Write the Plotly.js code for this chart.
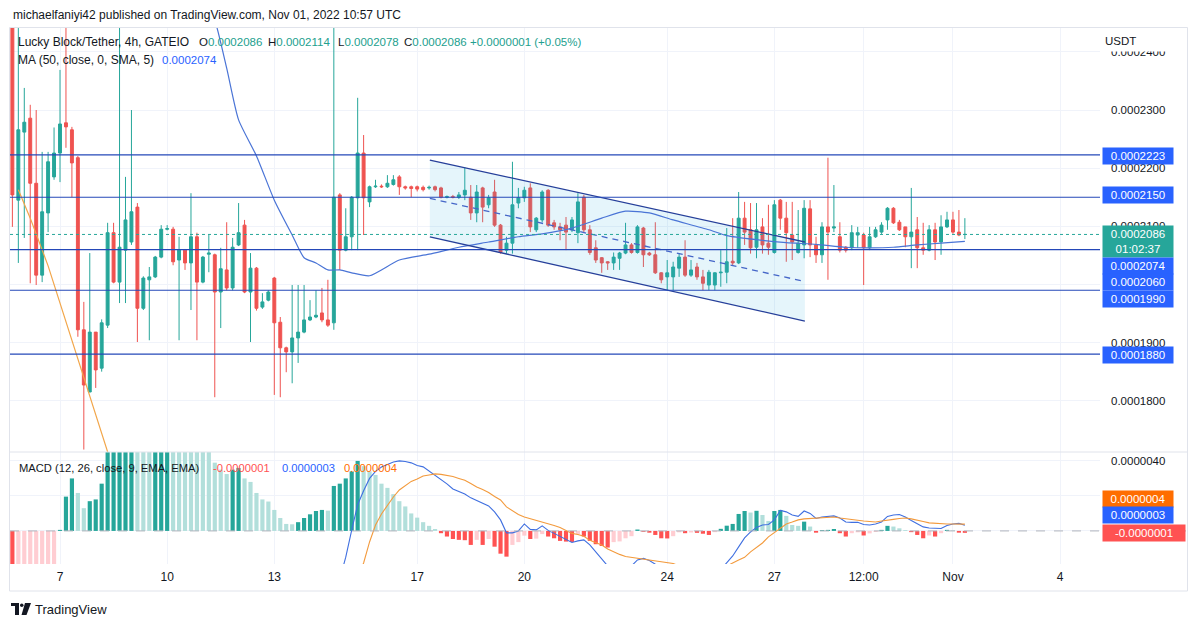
<!DOCTYPE html>
<html><head><meta charset="utf-8">
<script src="https://cdn.plot.ly/plotly-3.0.1.min.js"></script>
<style>html,body{margin:0;padding:0;background:#fff;}#chart{width:1194px;height:627px;}</style>
</head><body><div id="chart"></div>
<script>
// ---- values are in units of 0.0000001 USDT ----
const UNIT = 1e-7;
const firstBar = '2022-10-05 16:00';   // 4h bars
const barHours = 4;

const opens = [
 2450,2145,2262,2286,2174,2016,2123,2185,2226,2278,
 2266,2218,1922,1815,1918,1856,1930,2089,2004,2059,
 2073,2133,1959,2008,2013,2047,2095,2095,2042,2059,
 2037,2082,2004,2052,2051,1987,2025,1994,2068,2102,
 1987,2028,1961,1973,2011,1935,1891,1884,1908,1918,
 1939,1944,1951,1939,1934,2154,2059,2082,2149,2226,
 2142,2168,2169,2168,2172,2185,2168,2168,2168,2167,
 2166,2168,2166,2150,2151,2150,2154,2150,2123,2166,
 2137,2159,2102,2059,2071,2140,2149,2166,2094,2111,
 2162,2106,2099,2102,2094,2089,2150,2094,2063,2046,
 2039,2037,2045,2054,2068,2055,2097,2054,2051,2020,
 2013,2013,2028,2047,2016,2030,2013,1999,1999,2020,
 2021,2040,2037,2114,2094,2064,2099,2071,2055,2145,
 2114,2085,2055,2068,2130,2068,2051,2099,2097,2082,
 2064,2063,2085,2085,2063,2082,2090,2111,2131,2107,
 2099,2082,2094,2063,2059,2094,2073,2099,2111,2090,2086];
const highs = [
 2470,2450,2338,2309,2300,2228,2228,2270,2369,2450,
 2271,2221,1970,2054,1918,1940,2106,2106,2450,2185,
 2300,2140,2014,2030,2049,2102,2102,2099,2082,2061,
 2157,2089,2049,2085,2053,2063,2107,2080,2140,2111,
 2054,2030,1985,1990,2013,1944,1893,1999,1999,1999,
 1973,1990,1994,2008,2460,2157,2131,2152,2321,2257,
 2170,2180,2172,2188,2188,2188,2170,2170,2170,2170,
 2170,2170,2168,2153,2154,2159,2201,2171,2171,2168,
 2154,2180,2104,2082,2211,2166,2168,2174,2116,2162,
 2164,2111,2106,2116,2116,2157,2154,2102,2076,2047,
 2040,2055,2056,2106,2071,2102,2099,2056,2107,2021,
 2042,2039,2054,2076,2042,2037,2025,2025,2021,2059,
 2097,2114,2159,2142,2140,2140,2114,2137,2145,2147,
 2142,2142,2128,2145,2145,2082,2107,2218,2171,2107,
 2066,2102,2099,2089,2099,2099,2107,2133,2133,2111,
 2099,2166,2116,2106,2102,2106,2119,2125,2125,2128,2114];
const lows = [
 2099,2037,2080,2002,1999,2004,2090,2180,2176,2235,
 2150,1910,1716,1815,1822,1850,1925,2002,1968,1968,
 2068,1901,1956,1904,2011,2045,2093,2033,1904,2025,
 1956,1904,2002,2021,1806,1925,1990,1990,2066,1985,
 1901,1955,1958,1971,1810,1806,1849,1830,1865,1916,
 1937,1942,1935,1927,1922,2025,2057,2059,2059,2085,
 2133,2166,2166,2166,2170,2154,2163,2150,2160,2160,
 2163,2160,2148,2148,2148,2147,2145,2111,2107,2107,
 2131,2099,2053,2053,2053,2131,2142,2090,2090,2107,
 2099,2094,2076,2059,2090,2071,2090,2051,2037,2020,
 2025,2025,2025,2052,2053,2053,2030,2049,2018,2002,
 1990,1990,2013,2013,2013,2008,1990,1990,1990,1996,
 2002,2033,2035,2068,2053,2045,2053,2051,2053,2094,
 2039,2042,2053,2045,2047,2037,2037,2008,2090,2055,
 2055,2059,2063,1999,2059,2080,2087,2094,2104,2092,
 2064,2028,2028,2051,2057,2042,2051,2097,2087,2083,2078];
const closes = [
 2154,2266,2279,2174,2016,2125,2211,2226,2276,2271,
 2209,1922,1827,1918,1853,1934,2089,2004,2064,2111,
 2125,1959,2011,2013,2047,2095,2096,2039,2059,2037,
 2082,2004,2047,2054,1987,2027,1994,2064,2089,1987,
 2028,1959,1970,1987,1934,1891,1884,1908,1918,1939,
 1944,1947,1939,1930,2150,2059,2082,2150,2226,2149,
 2168,2169,2168,2174,2180,2168,2166,2165,2164,2163,
 2167,2163,2150,2151,2150,2154,2162,2123,2159,2133,
 2149,2102,2055,2071,2137,2149,2162,2099,2114,2159,
 2102,2099,2094,2090,2111,2142,2094,2055,2042,2037,
 2037,2047,2054,2068,2055,2099,2051,2051,2020,2008,
 2020,2030,2047,2016,2025,2013,2002,2021,2020,2021,
 2039,2037,2114,2090,2063,2094,2068,2064,2137,2114,
 2089,2073,2071,2131,2068,2051,2099,2090,2099,2059,
 2059,2089,2089,2063,2082,2094,2102,2131,2106,2094,
 2082,2090,2063,2059,2094,2073,2099,2111,2090,2085,2086];

// MA (50, close)
const maTimes = ['2022-10-11 00:00','2022-10-11 08:00','2022-10-11 16:00','2022-10-12 00:00','2022-10-12 12:00',
 '2022-10-13 00:00','2022-10-13 12:00','2022-10-13 20:00','2022-10-14 04:00','2022-10-14 12:00','2022-10-14 20:00',
 '2022-10-15 04:00','2022-10-15 16:00','2022-10-16 12:00','2022-10-17 08:00','2022-10-18 04:00','2022-10-19 00:00',
 '2022-10-19 20:00','2022-10-20 12:00','2022-10-21 08:00','2022-10-22 04:00','2022-10-22 20:00','2022-10-23 12:00',
 '2022-10-24 04:00','2022-10-25 04:00','2022-10-25 16:00','2022-10-26 12:00','2022-10-27 08:00','2022-10-28 04:00',
 '2022-10-29 00:00','2022-10-29 16:00','2022-10-30 08:00','2022-10-31 00:00','2022-10-31 16:00','2022-11-01 08:00'];
const maVals = [2500,2455,2372,2283,2221,2145,2085,2046,2037,2025,2025,2020,2015,2042,2052,2064,2073,2082,2087,2097,
 2114,2126,2123,2111,2094,2084,2077,2072,2069,2064,2063,2064,2068,2071,2074];

// orange line on the price pane
const orangeTimes = ['2022-10-05 20:00','2022-10-06 04:00','2022-10-06 16:00','2022-10-07 16:00','2022-10-08 08:00','2022-10-08 12:00'];
const orangeVals = [2163,2114,2032,1838,1712,1680];

// horizontal levels and channel drawing
const levels = [2223,2150,2060,1990,1880];
const lastPrice = 2086, maLast = 2074;
const channelTimes = ['2022-10-17 08:30','2022-10-27 20:30'];
const channelUpper = [2214,2073];
const channelLower = [2082,1937];
const channelMid = [2148,2005];

// MACD (12, 26, close, 9)
const histVals = [
 -26,-25,-24,-23,-22,-21.5,-21,-20.5,0.6,19.6,
 30,21.7,13,17,18,27,48,52,56,60,
 63,61,58,55,57,59,61,59,57,55,
 53,51,49,47,39,35,32.5,35,36,30,
 28,21.7,18,16.8,12,7.4,4,3.8,5,7.4,
 9.5,11.4,12,11.6,25.7,27,30,34,40,37,
 34,32,27,24.6,21,17,14,10,7.6,5,
 2.9,1.1,-1.3,-3.2,-4.6,-5.1,-5.3,-8,-5.1,-8,
 -4.6,-9,-13,-14.7,-8,-6.4,-2.7,-4.6,-4.4,-1.8,
 -3.2,-4.2,-5.7,-6.1,-6.3,-1.8,-3.2,-5.7,-7.6,-8.6,
 -9.5,-6.4,-6.0,-4.2,-3,0.8,-0.5,-1,-2.3,-4.2,
 -4.3,-3,-0.8,-1.3,-0.9,-1.1,-1.6,-2.3,-0.7,1.2,
 3,4,9.7,11.4,10.5,11.5,9.1,5.7,11.4,12,
 8.6,3.4,2.9,5.3,2.5,-1,0.5,0.6,1.1,-1.3,
 -3.2,-1.3,-0.8,-2.6,-1.4,-0.6,0.6,2.9,2.5,1.5,
 0.5,-0.7,-2.3,-4.2,-2.6,-3.2,-1.3,0.6,0.3,-1,-1.1];
const macdStart = '2022-10-14 16:00';
const macdVals = [
 -40,-27,-15,0.5,15,23,30,34,36.5,38,
 39.4,40,39.7,38.9,37.4,36.6,34.3,32,29.4,26.9,
 24,22.6,21.1,18.9,17.4,16,14.3,10.9,6.3,-1.1,
 -1.1,0,4,0.9,0.6,2.9,0.3,-1.4,-3.1,-4.6,
 -6.6,-5.7,-5.1,-8,-12,-16.3,-20.5,-24,-25,-23,
 -20,-16.6,-15.7,-16.9,-19,-23,-26,null,null,null,
 null,null,null,null,-26,-22,-18.3,-14.3,-9.1,-4,
 -0.6,2,3.4,3.7,6.3,11.7,10.9,9.1,8.3,11.4,
 10,7.1,8,8.3,8.6,7.4,5.1,4.9,4.9,3.7,
 3.4,4,5.1,8.3,9.1,9.4,8,6,4.3,2.3,
 1.7,1.4,1.4,3.1,4,4.3,3.2];
const signalStart = '2022-10-15 04:00';
const signalVals = [
 -35,-27,-18.3,-6.3,3.4,9.7,14.9,19.4,23.4,25.7,
 28.3,29.7,31.4,32,32.6,32.3,31.7,31.1,30,28.9,
 27.1,25.1,23.7,22,19.7,17.7,13.7,11.4,9.4,8,
 7.1,6,5.1,4.3,3.1,2,0.3,-1.4,-2,-3.1,
 -5.4,-6.9,-8,-10.3,-12,-13.4,-14.6,-15.1,-15.4,-15.7,
 -16.3,-16.9,-17.4,-17.7,-18.6,-20,-21.5,null,null,null,
 null,null,-22,-20,-18.3,-16.6,-15.1,-12,-9.4,-6.9,
 -3.4,-0.9,1.7,4,5.1,6.3,6.9,7.1,7.4,7.7,
 8,8,7.4,6.9,6.3,6,5.7,5.4,5.1,5.7,
 6,6.6,7.1,7.4,6.9,6.3,5.4,4.6,4.3,4,
 4,4,3.9,3.9];
const macdNow = -1, macdLineNow = 3, signalNow = 4;   // legend values

// price-scale ticks; those hidden behind the coloured tags in the reference carry no text
const priceTicks = [1800,1900,2000,2100,2200,2300,2400];
const priceTicksHidden = [2000];
const macdTicks = [0,20,40];
const macdTicksHidden = [0,20];
const xTickVals = ['2022-10-07','2022-10-10','2022-10-13','2022-10-17','2022-10-20','2022-10-24','2022-10-27','2022-10-29 12:00','2022-11-01','2022-11-04'];
const xTickText = ['7','10','13','17','20','24','27','12:00','Nov','4'];

// ---- helpers ----
const BAR_MS = barHours*3600*1000;
const toMs = s => Date.parse(s.replace(' ','T') + ':00Z');
const fmt = ms => new Date(ms).toISOString().slice(0,16).replace('T',' ');
const seriesTimes = (start, n) => Array.from({length:n}, (_,k) => fmt(toMs(start) + k*BAR_MS));
const times = seriesTimes(firstBar, opens.length);
const label = v => (v*UNIT).toFixed(7);

const histColors = histVals.map((v,k) => {
  const prev = k > 0 ? histVals[k-1] : Infinity;
  if (v >= 0) return v >= prev ? '#26a69a' : '#b2dfdb';
  return v <= prev ? '#ff5252' : '#ffcdd2';
});

// pixel -> paper helpers (plot area: x 10..1100, y 27..564)
const L = 10, R = 1100, T = 27, B = 564;
const px = x => (x - L)/(R - L);
const py = y => (B - y)/(B - T);
const split = py(452);

const FONT = 'Liberation Sans, Arial, sans-serif';
const DARK = '#131722', TEAL = '#22a08e';

const traces = [
  {type:'scatter', mode:'lines', x:[channelTimes[0],channelTimes[1],channelTimes[1],channelTimes[0]],
   y:[channelUpper[0],channelUpper[1],channelLower[1],channelLower[0]], fill:'toself',
   fillcolor:'rgba(40,170,225,0.12)', line:{width:0}, xaxis:'x', yaxis:'y'},
  {type:'candlestick', x:times, open:opens, high:highs, low:lows, close:closes, xaxis:'x', yaxis:'y',
   increasing:{line:{color:'#26a69a', width:1}, fillcolor:'#26a69a'},
   decreasing:{line:{color:'#ef5350', width:1}, fillcolor:'#ef5350'}, whiskerwidth:0},
  {type:'scatter', mode:'lines', x:maTimes, y:maVals, line:{color:'#4a74d6', width:1.2, shape:'spline', smoothing:0.6}, xaxis:'x', yaxis:'y'},
  {type:'scatter', mode:'lines', x:orangeTimes, y:orangeVals, line:{color:'#f2a64a', width:1.2}, xaxis:'x', yaxis:'y'},
  {type:'scatter', mode:'lines', x:channelTimes, y:channelUpper, line:{color:'#263f9a', width:1.3}, xaxis:'x', yaxis:'y'},
  {type:'scatter', mode:'lines', x:channelTimes, y:channelLower, line:{color:'#263f9a', width:1.3}, xaxis:'x', yaxis:'y'},
  {type:'scatter', mode:'lines', x:channelTimes, y:channelMid, line:{color:'#4566c8', width:1.3, dash:'6px,5px'}, xaxis:'x', yaxis:'y'},
  {type:'bar', x:times, y:histVals, marker:{color:histColors, line:{width:0}}, xaxis:'x', yaxis:'y2'},
  {type:'scatter', mode:'lines', x:seriesTimes(macdStart, macdVals.length), y:macdVals, line:{color:'#3f6fe0', width:1.1}, xaxis:'x', yaxis:'y2'},
  {type:'scatter', mode:'lines', x:seriesTimes(signalStart, signalVals.length), y:signalVals, line:{color:'#f39a3c', width:1.1}, xaxis:'x', yaxis:'y2'}
];

const shapes = [];
levels.forEach(v => shapes.push({type:'line', xref:'paper', x0:0, x1:1, yref:'y', y0:v, y1:v, line:{color:'#2448b8', width:1.2}}));
shapes.push({type:'line', xref:'paper', x0:0, x1:1, yref:'y', y0:lastPrice, y1:lastPrice, line:{color:'#26a69a', width:1, dash:'dot'}});
shapes.push({type:'line', xref:'paper', x0:0, x1:px(1186), yref:'y2', y0:0, y1:0, line:{color:'#b2b5be', width:1, dash:'dash'}});
shapes.push({type:'line', xref:'paper', yref:'paper', x0:px(9.5), x1:px(1187), y0:split, y1:split, line:{color:'#e0e3eb', width:1}});
shapes.push({type:'rect', xref:'paper', yref:'paper', x0:px(9.5), x1:px(1187.5), y0:py(591), y1:py(27.5), line:{color:'#e0e3eb', width:1}});
// TradingView logo
shapes.push({type:'rect', xref:'paper', yref:'paper', x0:px(11), x1:px(19), y0:py(606), y1:py(603), fillcolor:DARK, line:{width:0}});
shapes.push({type:'rect', xref:'paper', yref:'paper', x0:px(15), x1:px(19), y0:py(615), y1:py(603), fillcolor:DARK, line:{width:0}});
shapes.push({type:'circle', xref:'paper', yref:'paper', x0:px(20), x1:px(23.5), y0:py(607), y1:py(603.5), fillcolor:DARK, line:{width:0}});
shapes.push({type:'path', xref:'paper', yref:'paper', fillcolor:DARK, line:{width:0},
  path:`M ${px(25)} ${py(603)} L ${px(31)} ${py(603)} L ${px(26.5)} ${py(615)} L ${px(21.5)} ${py(615)} Z`});

const ann = [];
const txt = (x, y, text, size, color, extra) => ann.push(Object.assign({xref:'paper', yref:'paper', x:px(x), y:py(y), xanchor:'left', yanchor:'middle',
  text, showarrow:false, font:{family:FONT, size:size||12, color:color||DARK}}, extra||{}));
txt(11, 15, 'michaelfaniyi42 published on TradingView.com, Nov 01, 2022 10:57 UTC', 12);
txt(16, 41.5, 'Lucky Block/Tether, 4h, GATEIO', 12);
txt(197, 41.5, `O<span style="color:${TEAL}">${label(opens[opens.length-1])}</span>`, 11.5);
txt(266, 41.5, `H<span style="color:${TEAL}">${label(highs[highs.length-1])}</span>`, 11.5);
txt(336, 41.5, `L<span style="color:${TEAL}">${label(lows[lows.length-1])}</span>`, 11.5);
txt(402, 41.5, `C<span style="color:${TEAL}">${label(closes[closes.length-1])}</span>`, 11.5);
txt(468, 41.5, `<span style="color:${TEAL}">+0.0000001 (+0.05%)</span>`, 11.5);
txt(16, 59.5, 'MA (50, close, 0, SMA, 5)', 12);
txt(160, 59.5, label(maLast), 11.5, '#2962ff');
txt(17, 468, 'MACD (12, 26, close, 9, EMA, EMA)', 11.2);
txt(211, 468, label(macdNow), 11.2, '#ff5252');
txt(280, 468, label(macdLineNow), 11.2, '#2962ff');
txt(342, 468, label(signalNow), 11.2, '#ff6d00');
txt(33, 609, 'TradingView', 13, DARK);
ann.push({xref:'paper', yref:'paper', x:px(1103), y:py(30), xanchor:'left', yanchor:'top', text:'USDT', showarrow:false,
  font:{family:FONT, size:11.5, color:DARK}, bgcolor:'#ffffff', width:70, height:18, align:'left', borderpad:1});

const tag = (yref, v, text, bg, yshift, w, h) => ann.push({xref:'paper', x:1, xanchor:'left', xshift:2, yref, y:v, yshift:yshift||0,
  yanchor:'middle', text, showarrow:false, bgcolor:bg, width:w||68, height:h||14, borderpad:1, align:'center',
  font:{family:FONT, size:11.5, color:'#ffffff'}});
tag('y', levels[0], label(levels[0]), '#2962ff', -1);
tag('y', levels[1], label(levels[1]), '#2962ff', 2);
tag('y', lastPrice, label(lastPrice) + '<br>01:02:37', '#26a69a', -7.4, 68, 29);
tag('y', maLast, label(maLast), '#2962ff', -24.6);
tag('y', levels[2], label(levels[2]), '#2962ff', -32.5);
tag('y', levels[3], label(levels[3]), '#2962ff', -8.3);
tag('y', levels[4], label(levels[4]), '#2962ff', -1);
tag('y2', signalNow, label(signalNow), '#ff6d00', 25);
tag('y2', macdLineNow, label(macdLineNow), '#2962ff', 11);
tag('y2', macdNow, label(macdNow), '#ff5252', 0, 80);

const layout = {
  width:1194, height:627, margin:{l:L, r:1194-R, t:T, b:627-B},
  paper_bgcolor:'#ffffff', plot_bgcolor:'#ffffff', showlegend:false, hovermode:false, bargap:0.3,
  font:{family:FONT, color:DARK, size:12},
  xaxis:{type:'date', range:['2022-10-05 14:24','2022-11-05 02:48'], anchor:'y2', tickvals:xTickVals, ticktext:xTickText,
    showgrid:true, gridcolor:'#f0f3fa', zeroline:false, showline:false, ticks:'', ticklabelstandoff:4,
    tickfont:{family:FONT, size:12, color:DARK}, rangeslider:{visible:false}, fixedrange:true},
  yaxis:{domain:[split,1], range:[1711.8,2442.8], side:'right', anchor:'x', tickvals:priceTicks,
    ticktext:priceTicks.map(v => priceTicksHidden.includes(v) ? '' : label(v)),
    showgrid:true, gridcolor:'#f0f3fa', zeroline:false, showline:false, ticks:'', ticklabelstandoff:10,
    tickfont:{family:FONT, size:11.5, color:DARK}},
  yaxis2:{domain:[0,split], range:[-18.9,45.1], side:'right', anchor:'x', tickvals:macdTicks,
    ticktext:macdTicks.map(v => macdTicksHidden.includes(v) ? '' : label(v)),
    showgrid:true, gridcolor:'#f0f3fa', zeroline:false, showline:false, ticks:'', ticklabelstandoff:10,
    tickfont:{family:FONT, size:11.5, color:DARK}},
  shapes, annotations:ann
};
Plotly.newPlot('chart', traces, layout, {staticPlot:true, displayModeBar:false});
</script></body></html>
